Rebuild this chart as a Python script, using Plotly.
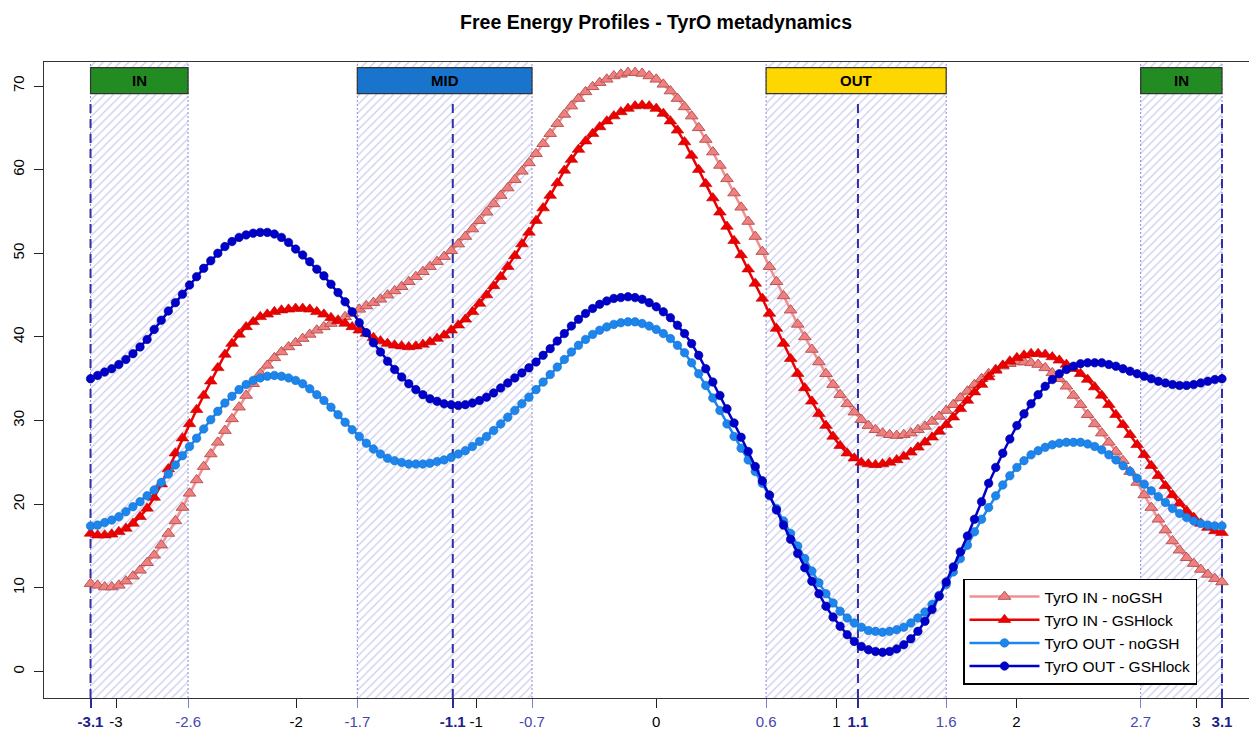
import numpy as np
import plotly.graph_objects as go

# ---------------- data ----------------
angle = np.linspace(-np.pi, np.pi, 161)  # CV grid (rad)

in_nogsh = [
    10.5, 10.3, 10.1, 10.1, 10.3, 10.8, 11.4, 12.1, 13.0, 13.9,
    15.1, 16.5, 18.0, 19.6, 21.3, 22.9, 24.5, 26.0, 27.4, 28.8,
    30.2, 31.6, 33.0, 34.4, 35.6, 36.6, 37.5, 38.2, 38.8, 39.3,
    39.8, 40.3, 40.8, 41.2, 41.6, 42.0, 42.4, 42.8, 43.3, 43.7,
    44.1, 44.5, 45.0, 45.5, 46.0, 46.6, 47.2, 47.8, 48.4, 49.0,
    49.6, 50.3, 51.1, 52.0, 52.9, 53.9, 54.9, 55.9, 56.9, 57.8,
    58.8, 59.8, 60.8, 61.9, 63.1, 64.3, 65.5, 66.6, 67.6, 68.5,
    69.3, 69.9, 70.4, 70.8, 71.2, 71.4, 71.6, 71.6, 71.5, 71.2,
    70.8, 70.2, 69.4, 68.5, 67.5, 66.4, 65.0, 63.6, 62.1, 60.5,
    58.9, 57.2, 55.5, 53.8, 52.0, 50.2, 48.4, 46.6, 44.9, 43.2,
    41.5, 40.0, 38.5, 37.0, 35.6, 34.3, 33.1, 32.0, 31.0, 30.1,
    29.4, 28.9, 28.5, 28.3, 28.2, 28.3, 28.5, 28.9, 29.3, 29.9,
    30.5, 31.2, 31.9, 32.7, 33.5, 34.3, 35.0, 35.6, 36.1, 36.5,
    36.8, 37.0, 37.0, 36.9, 36.7, 36.3, 35.7, 35.0, 34.1, 33.0,
    31.9, 30.7, 29.6, 28.5, 27.4, 26.3, 25.2, 23.9, 22.6, 21.1,
    19.6, 18.2, 16.9, 15.6, 14.5, 13.6, 12.9, 12.2, 11.6, 11.1,
    10.7,
]

in_gshlock = [
    16.5, 16.3, 16.3, 16.4, 16.7, 17.1, 17.7, 18.5, 19.5, 20.8,
    22.4, 24.2, 26.1, 27.9, 29.6, 31.3, 33.0, 34.7, 36.3, 37.9,
    39.2, 40.3, 41.2, 41.8, 42.4, 42.7, 43.0, 43.2, 43.3, 43.4,
    43.4, 43.3, 43.0, 42.7, 42.3, 41.9, 41.6, 41.2, 40.8, 40.4,
    39.9, 39.5, 39.2, 39.0, 38.9, 38.8, 38.9, 39.1, 39.4, 39.8,
    40.2, 40.8, 41.4, 42.1, 43.0, 44.0, 45.0, 46.1, 47.2, 48.4,
    49.7, 51.1, 52.5, 53.9, 55.4, 56.9, 58.4, 59.9, 61.2, 62.4,
    63.4, 64.3, 65.1, 65.8, 66.4, 66.9, 67.3, 67.6, 67.7, 67.6,
    67.3, 66.7, 65.8, 64.7, 63.3, 61.7, 60.0, 58.3, 56.6, 54.9,
    53.2, 51.5, 49.8, 48.1, 46.4, 44.6, 42.8, 41.0, 39.2, 37.4,
    35.6, 33.9, 32.3, 30.8, 29.4, 28.1, 27.0, 26.1, 25.5, 25.0,
    24.8, 24.7, 24.8, 25.0, 25.3, 25.7, 26.2, 26.8, 27.4, 28.0,
    28.7, 29.5, 30.4, 31.4, 32.4, 33.4, 34.3, 35.2, 36.0, 36.6,
    37.1, 37.5, 37.8, 38.0, 38.0, 37.9, 37.6, 37.2, 36.7, 36.2,
    35.6, 34.9, 34.0, 33.0, 31.9, 30.7, 29.5, 28.3, 27.1, 25.9,
    24.6, 23.4, 22.2, 21.1, 20.1, 19.2, 18.4, 17.7, 17.2, 16.8,
    16.6,
]

out_nogsh = [
    17.4, 17.5, 17.8, 18.1, 18.5, 19.1, 19.7, 20.3, 21.0, 21.7,
    22.6, 23.6, 24.7, 25.8, 26.9, 27.9, 29.0, 30.1, 31.1, 32.1,
    32.9, 33.7, 34.3, 34.8, 35.1, 35.3, 35.4, 35.3, 35.1, 34.8,
    34.4, 33.8, 33.1, 32.4, 31.6, 30.7, 29.8, 28.9, 28.1, 27.3,
    26.6, 26.0, 25.5, 25.2, 25.0, 24.8, 24.8, 24.8, 24.9, 25.1,
    25.3, 25.6, 26.0, 26.4, 26.9, 27.5, 28.1, 28.8, 29.6, 30.4,
    31.2, 32.0, 32.8, 33.7, 34.6, 35.5, 36.4, 37.3, 38.2, 39.0,
    39.7, 40.3, 40.8, 41.2, 41.5, 41.7, 41.8, 41.8, 41.6, 41.3,
    40.9, 40.4, 39.8, 39.0, 38.1, 36.9, 35.6, 34.2, 32.7, 31.2,
    29.6, 28.1, 26.7, 25.3, 23.9, 22.5, 21.0, 19.5, 18.0, 16.5,
    15.0, 13.5, 12.0, 10.6, 9.3, 8.2, 7.2, 6.4, 5.8, 5.3,
    4.9, 4.8, 4.7, 4.8, 5.0, 5.3, 5.8, 6.4, 7.1, 8.0,
    9.1, 10.4, 11.9, 13.5, 15.1, 16.7, 18.2, 19.6, 21.0, 22.3,
    23.4, 24.4, 25.2, 25.9, 26.4, 26.8, 27.1, 27.3, 27.4, 27.4,
    27.4, 27.2, 26.9, 26.5, 25.9, 25.3, 24.6, 23.9, 23.1, 22.4,
    21.6, 20.9, 20.2, 19.5, 18.9, 18.4, 18.0, 17.7, 17.5, 17.4,
    17.4,
]

out_gshlock = [
    35.0, 35.4, 35.8, 36.2, 36.7, 37.3, 38.0, 38.8, 39.7, 40.9,
    42.0, 43.1, 44.1, 45.1, 46.2, 47.2, 48.2, 49.1, 50.0, 50.8,
    51.4, 51.9, 52.2, 52.4, 52.5, 52.5, 52.3, 51.9, 51.3, 50.5,
    49.8, 49.0, 48.1, 47.3, 46.3, 45.3, 44.2, 43.0, 41.7, 40.5,
    39.3, 38.2, 37.1, 36.1, 35.2, 34.4, 33.7, 33.1, 32.6, 32.3,
    32.0, 31.9, 31.8, 31.9, 32.1, 32.4, 32.8, 33.3, 33.9, 34.5,
    35.1, 35.7, 36.3, 37.0, 37.8, 38.6, 39.5, 40.4, 41.3, 42.1,
    42.8, 43.4, 43.9, 44.3, 44.6, 44.7, 44.8, 44.7, 44.5, 44.1,
    43.6, 43.0, 42.3, 41.4, 40.4, 39.2, 37.8, 36.2, 34.6, 33.0,
    31.4, 29.7, 28.0, 26.3, 24.5, 22.8, 21.1, 19.3, 17.5, 15.8,
    14.1, 12.4, 10.8, 9.3, 7.8, 6.5, 5.4, 4.4, 3.6, 3.0,
    2.6, 2.4, 2.3, 2.4, 2.7, 3.2, 3.9, 4.8, 6.0, 7.4,
    9.0, 10.7, 12.5, 14.3, 16.2, 18.2, 20.3, 22.5, 24.4, 26.1,
    27.8, 29.4, 30.8, 32.0, 33.1, 34.1, 34.9, 35.6, 36.1, 36.5,
    36.8, 36.9, 36.9, 36.9, 36.7, 36.5, 36.2, 35.9, 35.6, 35.3,
    35.0, 34.7, 34.5, 34.3, 34.2, 34.2, 34.3, 34.5, 34.7, 34.9,
    35.0,
]

series_names = ["TyrO IN - noGSH", "TyrO IN - GSHlock",
                "TyrO OUT - noGSH", "TyrO OUT - GSHlock"]

region_names = ["IN", "MID", "OUT", "IN"]
region_lo = [-np.pi, -1.66, 0.61, 2.69]
region_hi = [-2.60, -0.69, 1.61, np.pi]
region_center = [-np.pi, -1.13, 1.12, np.pi]
region_colors = ["#228B22", "#1874CD", "#FFD700", "#228B22"]

int_ticks = [-3, -2, -1, 0, 1, 2, 3]
y_ticks = [0, 10, 20, 30, 40, 50, 60, 70]

# ---------------- layout constants ----------------
X_RANGE = [-3.400, 3.336]
Y_RANGE = [-3.17, 72.87]
BOX_Y = [69.1, 72.2]
DASH_TOP = 68.3
FONT = "Liberation Sans, Arial, Helvetica, sans-serif"
W, H = 1249, 723   # page body keeps an 8px margin

fig = go.Figure()

# hatched regions (base subplot, drawn first)
fig.add_trace(go.Bar(
    x=[(lo + hi) / 2 for lo, hi in zip(region_lo, region_hi)],
    width=[hi - lo for lo, hi in zip(region_lo, region_hi)],
    y=[Y_RANGE[1] - Y_RANGE[0]] * len(region_lo),
    base=[Y_RANGE[0]] * len(region_lo),
    marker=dict(color="rgba(0,0,0,0)", line=dict(width=0),
                pattern=dict(shape="/", fgcolor="#CACAEE", bgcolor="rgba(0,0,0,0)",
                             size=6, solidity=0.2, fillmode="replace")),
    showlegend=False, hoverinfo="skip", xaxis="x", yaxis="y"))

# dotted region boundaries
bx, by = [], []
for v in region_lo + region_hi:
    bx += [v, v, None]
    by += [Y_RANGE[0], Y_RANGE[1], None]
fig.add_trace(go.Scatter(x=bx, y=by, mode="lines",
                         line=dict(color="#8A8ADA", width=1, dash="2px,2px"),
                         showlegend=False, hoverinfo="skip", xaxis="x", yaxis="y"))

# dashed centres
cx, cy = [], []
for v in region_center:
    cx += [v, v, None]
    cy += [Y_RANGE[0], DASH_TOP, None]
fig.add_trace(go.Scatter(x=cx, y=cy, mode="lines",
                         line=dict(color="#2F2FA6", width=2, dash="9px,6px"),
                         showlegend=False, hoverinfo="skip", xaxis="x2", yaxis="y"))

# curves
styles = [
    dict(line=dict(color="#F29090", width=2.5),
         marker=dict(symbol="triangle-up", size=11, color="#F08080",
                     line=dict(color="#B85555", width=1))),
    dict(line=dict(color="#EE0000", width=2.5),
         marker=dict(symbol="triangle-up", size=11, color="#EE0000",
                     line=dict(color="#C00000", width=0.6))),
    dict(line=dict(color="#1C86EE", width=2.5),
         marker=dict(symbol="circle", size=8.5, color="#1C86EE",
                     line=dict(color="#1A6FC4", width=0.6))),
    dict(line=dict(color="#0000CD", width=2.5),
         marker=dict(symbol="circle", size=8.5, color="#0000CD",
                     line=dict(color="#00008B", width=0.6))),
]
for i, (name, vals, st) in enumerate(zip(series_names,
                                         [in_nogsh, in_gshlock, out_nogsh, out_gshlock],
                                         styles)):
    fig.add_trace(go.Scatter(x=angle, y=vals, mode="lines+markers", name=name,
                             legendgroup=f"g{i}",
                             line=st["line"], marker=st["marker"],
                             xaxis="x3", yaxis="y"))

# region label boxes
for lo, hi, name, col in zip(region_lo, region_hi, region_names, region_colors):
    fig.add_shape(type="rect", xref="x", yref="y", x0=lo, x1=hi,
                  y0=BOX_Y[0], y1=BOX_Y[1], fillcolor=col,
                  line=dict(color="#333333", width=1.2), layer="above")
    fig.add_annotation(x=(lo + hi) / 2, y=(BOX_Y[0] + BOX_Y[1]) / 2, xref="x", yref="y",
                       text=name, showarrow=False,
                       font=dict(family=FONT, size=15, color="black", weight="bold"))

boundary_vals = [v for v in region_lo + region_hi if abs(v) < 3.0]

common_x = dict(range=X_RANGE, showgrid=False, zeroline=False, ticks="outside",
                ticklen=9, ticklabelstandoff=1, fixedrange=True)

fig.update_layout(
    width=W, height=H,
    margin=dict(l=36, r=0, t=54, b=33),
    paper_bgcolor="white", plot_bgcolor="white",
    font=dict(family=FONT, size=15, color="black"),
    barmode="overlay",
    title=dict(text="Free Energy Profiles - TyrO metadynamics",
               x=0.5046, xref="paper", xanchor="center",
               y=1 - 14 / H, yref="container", yanchor="middle",
               font=dict(family=FONT, size=19.5, color="black", weight="bold")),
    xaxis=dict(**common_x, tickvals=boundary_vals,
               ticktext=[f"{v:.1f}" for v in boundary_vals],
               tickfont=dict(color="#4646B0", size=15), tickcolor="#8080D0", tickwidth=1,
               showline=True, linecolor="#333333", linewidth=1.2, mirror=True),
    xaxis2=dict(**common_x, overlaying="x", anchor="y", side="bottom",
                tickvals=region_center, ticktext=[f"{v:.1f}" for v in region_center],
                tickfont=dict(color="#1E1E8C", size=15, weight="bold"),
                tickcolor="#2A2A9E", tickwidth=2, showline=False),
    xaxis3=dict(**common_x, overlaying="x", anchor="y", side="bottom",
                tickvals=int_ticks, ticktext=[str(v) for v in int_ticks],
                tickfont=dict(color="black", size=15), tickcolor="#222222",
                tickwidth=1, showline=False),
    yaxis=dict(range=Y_RANGE, showgrid=False, zeroline=False, ticks="outside",
               ticklen=9, ticklabelstandoff=4, tickvals=y_ticks,
               ticktext=[str(v) for v in y_ticks],
               tickangle=-90, tickfont=dict(size=15), tickcolor="#222222",
               showline=True, linecolor="#333333", linewidth=1.2, fixedrange=True),
    legend=dict(x=(955 - 36) / 1213, y=(689.5 - 570) / 636, xanchor="left", yanchor="top",
                bgcolor="white", bordercolor="black", borderwidth=1.5,
                font=dict(family=FONT, size=15.5, color="black"),
                itemwidth=70, entrywidth=175, entrywidthmode="pixels",
                tracegroupgap=3, traceorder="normal"),
)

fig.write_html("out.html")
